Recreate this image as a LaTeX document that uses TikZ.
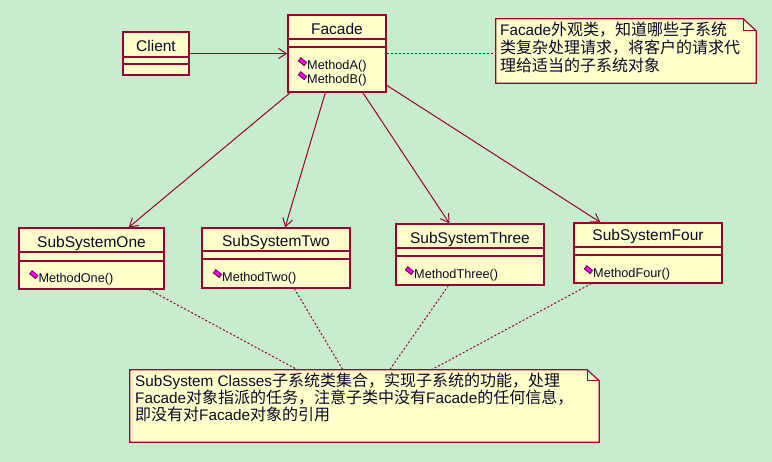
\documentclass[tikz,border=0pt]{standalone}
\usepackage{fontspec}
\setmainfont{Liberation Sans}
\newfontfamily\cjkfont{Noto Sans CJK SC}
\newcommand\zhtxt[1]{{\cjkfont\fontsize{16}{18}\selectfont #1}}
\usetikzlibrary{arrows.meta}
\definecolor{bg}{RGB}{199,237,204}
\definecolor{boxfill}{RGB}{255,255,204}
\definecolor{border}{RGB}{153,0,51}
\definecolor{iconfill}{RGB}{255,0,255}
\definecolor{iconline}{RGB}{120,0,90}
\definecolor{txt}{RGB}{10,10,40}
\begin{document}
\begin{tikzpicture}[x=1pt,y=-1pt,
  cls/.style={draw=border, fill=boxfill, line width=1.2pt, inner sep=0pt, rectangle},
  cname/.style={anchor=base, inner sep=0pt, text=txt, font=\fontsize{15.5}{18}\selectfont},
  meth/.style={anchor=base west, inner sep=0pt, text=txt, font=\fontsize{12.7}{15}\selectfont},
  notetxt/.style={anchor=base west, inner sep=0pt, text=txt, font=\fontsize{15.3}{18}\selectfont},
  notebox/.style={inner sep=0pt, rectangle},
  notedraw/.style={draw=border, fill=boxfill, line width=1.2pt},
  sep/.style={draw=border, line width=1.2pt},
  assoc/.style={draw=border, line width=1pt, -{Straight Barb[length=8pt,width=10pt]}},
  link/.style={draw=border, line width=1pt, dash pattern=on 2pt off 2pt},
  micon/.pic={\filldraw[fill=iconfill, draw=iconline, line width=1pt, scale=1.15] (-1.5,-3.2)--(3.5,0.8)--(1.5,3.5)--(-3.5,-0.5)--cycle;}
]
\fill[bg] (0,0) rectangle (772,462);
\useasboundingbox (0,0) rectangle (772,462);

% Client
\node[cls, minimum width=66pt, minimum height=43pt] (client) at (156,53.5) {};
\node[cname] (clientname) at (156,51.7) {Client};
\draw[sep] (client.west |- 0,57) -- (client.east |- 0,57);
\draw[sep] (client.west |- 0,64) -- (client.east |- 0,64);

% Facade
\node[cls, minimum width=98pt, minimum height=77pt] (facade) at (337,53.5) {};
\node[cname] (facadename) at (337,34.3) {Facade};
\draw[sep] (facade.west |- 0,39) -- (facade.east |- 0,39);
\draw[sep] (facade.west |- 0,47) -- (facade.east |- 0,47);
\pic at (302.5,61.5) {micon};
\node[meth] (fma) at (307,70) {MethodA()};
\pic at (302.5,75.5) {micon};
\node[meth] (fmb) at (307,84) {MethodB()};

% SubSystemOne
\node[cls, minimum width=145pt, minimum height=61pt] (s1) at (91.5,258.5) {};
\node[cname] (s1name) at (91.5,247.5) {SubSystemOne};
\draw[sep] (s1.west |- 0,252) -- (s1.east |- 0,252);
\draw[sep] (s1.west |- 0,261) -- (s1.east |- 0,261);
\pic at (33.8,274.5) {micon};
\node[meth] (s1m) at (38.3,283) {MethodOne()};

% SubSystemTwo
\node[cls, minimum width=148pt, minimum height=60pt] (s2) at (276,258) {};
\node[cname] (s2name) at (276,246.5) {SubSystemTwo};
\draw[sep] (s2.west |- 0,251) -- (s2.east |- 0,251);
\draw[sep] (s2.west |- 0,259) -- (s2.east |- 0,259);
\pic at (217.5,273.5) {micon};
\node[meth] (s2m) at (222,282) {MethodTwo()};

% SubSystemThree
\node[cls, minimum width=148pt, minimum height=61pt] (s3) at (470,254.5) {};
\node[cname] (s3name) at (470,244) {SubSystemThree};
\draw[sep] (s3.west |- 0,248) -- (s3.east |- 0,248);
\draw[sep] (s3.west |- 0,256) -- (s3.east |- 0,256);
\pic at (409.5,270.5) {micon};
\node[meth] (s3m) at (414,279) {MethodThree()};

% SubSystemFour
\node[cls, minimum width=148pt, minimum height=60pt] (s4) at (648,253) {};
\node[cname] (s4name) at (648,241) {SubSystemFour};
\draw[sep] (s4.west |- 0,247) -- (s4.east |- 0,247);
\draw[sep] (s4.west |- 0,255) -- (s4.east |- 0,255);
\pic at (588.5,269.5) {micon};
\node[meth] (s4m) at (593,278) {MethodFour()};

% Note 1
\node[notebox, minimum width=260pt, minimum height=64pt] (n1) at (626,51) {};
\draw[notedraw] (n1.north west) -- ([xshift=-13pt]n1.north east) -- ([yshift=-12pt]n1.north east) -- (n1.south east) -- (n1.south west) -- cycle;
\draw[notedraw, fill=none] ([xshift=-13pt]n1.north east) -- ([xshift=-13pt,yshift=-12pt]n1.north east) -- ([yshift=-12pt]n1.north east);
\node[notetxt] (n1a) at (500,36) {Facade\zhtxt{外观类，知道哪些子系统}};
\node[notetxt] (n1b) at (500,54) {\zhtxt{类复杂处理请求，将客户的请求代}};
\node[notetxt] (n1c) at (500,72) {\zhtxt{理给适当的子系统对象}};

% Note 2
\node[notebox, minimum width=469pt, minimum height=72pt] (n2) at (364.5,406) {};
\draw[notedraw] (n2.north west) -- ([xshift=-12pt]n2.north east) -- ([yshift=-11pt]n2.north east) -- (n2.south east) -- (n2.south west) -- cycle;
\draw[notedraw, fill=none] ([xshift=-12pt]n2.north east) -- ([xshift=-12pt,yshift=-11pt]n2.north east) -- ([yshift=-11pt]n2.north east);
\node[notetxt] (n2a) at (135,387) {SubSystem Classes\zhtxt{子系统类集合，实现子系统的功能，处理}};
\node[notetxt] (n2b) at (135,404) {Facade\zhtxt{对象指派的任务，注意子类中没有}Facade\zhtxt{的任何信息，}};
\node[notetxt] (n2c) at (135,421) {\zhtxt{即没有对}Facade\zhtxt{对象的引用}};

% connectors
\draw[assoc] (client) -- (facade);
\draw[assoc] (facade) -- (s1);
\draw[assoc] (facade) -- (s2);
\draw[assoc] (facade) -- (s3);
\draw[assoc] (facade) -- (s4);
\draw[link] (facade.east) -- (n1.west |- facade.east);
\draw[link] (s1) -- (n2);
\draw[link] (s2) -- (n2);
\draw[link] (s3) -- (n2);
\draw[link] (s4) -- (n2);
\end{tikzpicture}
\end{document}
